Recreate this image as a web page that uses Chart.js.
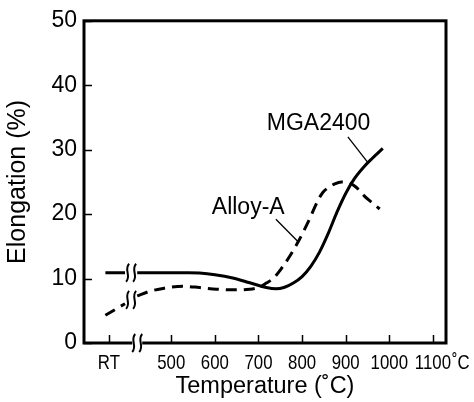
<!DOCTYPE html>
<html><head><meta charset="utf-8">
<script src="https://cdn.jsdelivr.net/npm/chart.js@4.4.1/dist/chart.umd.min.js"></script>
<style>html,body{margin:0;padding:0;background:#fff;}#wrap{width:474px;height:402px;}</style>
</head><body><div id="wrap"><canvas id="c" width="474" height="402"></canvas></div>
<script>
// ---- data ----
const tempMGA  = [349, 394, 408, 422, 480, 540, 565, 600, 641, 680, 718, 740, 760, 780, 800, 820, 840, 860, 880, 900, 920, 940, 960, 985];
const elongMGA = [10.9, 10.9, null, 10.9, 10.9, 10.9, 10.85, 10.6, 10.1, 9.35, 8.6, 8.4, 8.65, 9.3, 10.3, 11.9, 14.1, 17.0, 20.3, 23.2, 25.5, 27.2, 28.6, 30.2];
const tempAlloy  = [349, 394, 408, 422, 450, 484, 527, 565, 604, 640, 680, 703, 718, 735, 753, 772, 791, 814, 837, 848, 860, 875, 890, 913, 930, 943, 960, 978];
const elongAlloy = [4.3, 6.1, null, 7.3, 8.0, 8.5, 8.8, 8.6, 8.35, 8.25, 8.35, 8.7, 9.3, 10.1, 11.6, 13.5, 15.7, 18.8, 22.2, 23.4, 24.1, 24.7, 25.0, 24.7, 23.8, 22.8, 21.8, 20.8];
const xTickValues = [357, 500, 600, 700, 800, 900, 1000, 1100];
const xTickLabels = ['RT', '500', '600', '700', '800', '900', '1000', '1100'];
const xUnitLabel = '˚C';
const yTickValues = [0, 10, 20, 30, 40, 50];
const seriesNames = ['MGA2400', 'Alloy-A'];
const xAxisBreak = 422;

const SANS = "'Liberation Sans', Arial, sans-serif";

function pts(xs, ys) { return xs.map((x, i) => ({ x: x, y: ys[i] })); }

function drawBreak(ctx, cx, cy, h) {
  ctx.save();
  ctx.strokeStyle = '#000';
  ctx.lineWidth = 2;
  [-3.5, 3.5].forEach(off => {
    const x = cx + off;
    ctx.beginPath();
    ctx.moveTo(x + 1.5, cy - h / 2);
    ctx.bezierCurveTo(x - 4, cy - h / 6, x + 4, cy + h / 6, x - 1.5, cy + h / 2);
    ctx.stroke();
  });
  ctx.restore();
}

function narrowText(ctx, text, x, y, align, sx) {
  ctx.save();
  ctx.translate(x, y);
  ctx.scale(sx, 1);
  ctx.textAlign = align;
  ctx.fillText(text, 0, 0);
  ctx.restore();
}

const decor = {
  id: 'decor',
  afterDatasetsDraw(chart) {
    const ctx = chart.ctx;
    const a = chart.chartArea;
    const xs = chart.scales.x, ys = chart.scales.y;
    ctx.save();
    // frame
    ctx.strokeStyle = '#000';
    ctx.lineWidth = 3;
    ctx.strokeRect(a.left, a.top, a.right - a.left, a.bottom - a.top);
    // inward ticks
    ctx.lineWidth = 1.5;
    ctx.beginPath();
    xTickValues.forEach(v => {
      const px = Math.round(xs.getPixelForValue(v)) + 0.5;
      ctx.moveTo(px, a.bottom); ctx.lineTo(px, a.bottom - 8);
    });
    yTickValues.forEach(v => {
      const py = Math.round(ys.getPixelForValue(v)) + 0.5;
      ctx.moveTo(a.left, py); ctx.lineTo(a.left + 8, py);
    });
    ctx.stroke();
    // axis break
    const bx = xs.getPixelForValue(xAxisBreak);
    ctx.fillStyle = '#fff';
    ctx.fillRect(bx - 5, a.bottom - 3, 10, 6);
    drawBreak(ctx, bx, a.bottom, 18);
    // curve breaks
    [[tempMGA, elongMGA], [tempAlloy, elongAlloy]].forEach(([tx, ey]) => {
      const i = ey.indexOf(null);
      const cy = ys.getPixelForValue((ey[i - 1] + ey[i + 1]) / 2);
      drawBreak(ctx, xs.getPixelForValue(tx[i]), cy, 18);
    });
    // x tick labels (condensed lettering)
    ctx.fillStyle = '#000';
    ctx.font = '21px ' + SANS;
    ctx.textBaseline = 'alphabetic';
    xTickValues.forEach((v, i) => {
      narrowText(ctx, xTickLabels[i], xs.getPixelForValue(v), a.bottom + 26, 'center', 0.8);
    });
    narrowText(ctx, xUnitLabel, a.right + 6, a.bottom + 26, 'left', 0.8);
    // annotations
    ctx.font = '23px ' + SANS;
    ctx.textBaseline = 'middle';
    ctx.textAlign = 'left';
    ctx.fillText(seriesNames[0], xs.getPixelForValue(719), ys.getPixelForValue(34.1));
    ctx.fillText(seriesNames[1], xs.getPixelForValue(593), ys.getPixelForValue(21.0));
    ctx.lineWidth = 1.3;
    ctx.beginPath();
    ctx.moveTo(xs.getPixelForValue(905), ys.getPixelForValue(32.0));
    ctx.lineTo(xs.getPixelForValue(951), ys.getPixelForValue(28.0));
    ctx.moveTo(xs.getPixelForValue(740), ys.getPixelForValue(19.2));
    ctx.lineTo(xs.getPixelForValue(791), ys.getPixelForValue(15.7));
    ctx.stroke();
    ctx.restore();
  }
};

new Chart(document.getElementById('c'), {
  type: 'line',
  data: {
    datasets: [
      { label: seriesNames[0], data: pts(tempMGA, elongMGA), borderColor: '#000', borderWidth: 3,
        pointRadius: 0, tension: 0.4, cubicInterpolationMode: 'monotone', spanGaps: false, fill: false },
      { label: seriesNames[1], data: pts(tempAlloy, elongAlloy), borderColor: '#000', borderWidth: 3,
        borderDash: [11, 7], pointRadius: 0, tension: 0.4, cubicInterpolationMode: 'monotone', spanGaps: false, fill: false }
    ]
  },
  options: {
    responsive: false, animation: false, devicePixelRatio: 1,
    layout: { padding: { top: 15, right: 28, left: 0, bottom: 0 } },
    plugins: { legend: { display: false }, tooltip: { enabled: false } },
    scales: {
      x: {
        type: 'linear', min: 300, max: 1130,
        afterBuildTicks: s => { s.ticks = xTickValues.map(v => ({ value: v })); },
        afterFit: s => { s.height = 59; },
        grid: { display: false, drawTicks: false },
        border: { display: false },
        ticks: { display: false },
        title: { display: true, text: 'Temperature (˚C)', color: '#000', padding: { top: 0, bottom: 1 },
          font: { family: SANS, size: 23.5 } }
      },
      y: {
        min: 0, max: 50,
        afterBuildTicks: s => { s.ticks = yTickValues.map(v => ({ value: v })); },
        afterFit: s => { s.width = 84; },
        grid: { display: false, drawTicks: false },
        border: { display: false },
        ticks: { color: '#000', padding: 7, font: { family: SANS, size: 23 } },
        title: { display: true, text: 'Elongation (%)', color: '#000', padding: { top: 3, bottom: 0 },
          font: { family: SANS, size: 25 } }
      }
    }
  },
  plugins: [decor]
});
</script></body></html>
